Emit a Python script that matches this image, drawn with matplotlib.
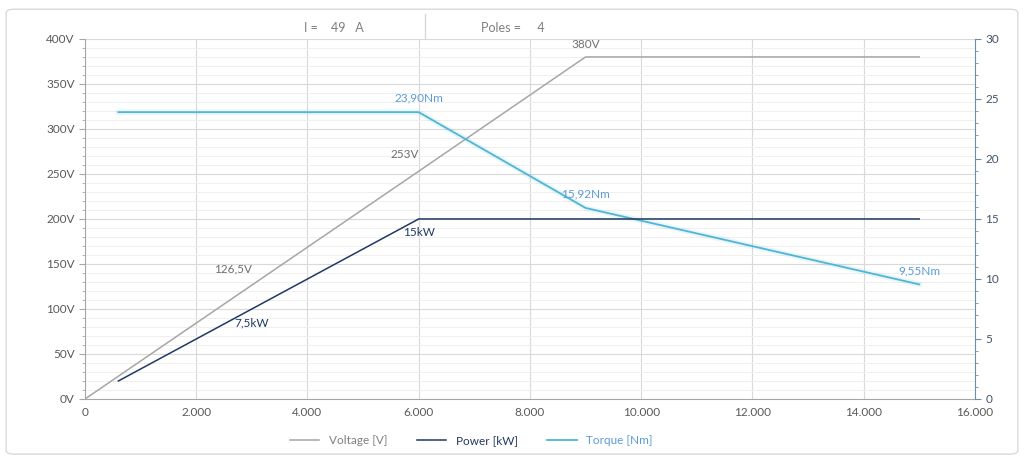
import matplotlib.pyplot as plt
from matplotlib.ticker import MultipleLocator, FuncFormatter
from matplotlib.patches import FancyBboxPatch

plt.rcParams['font.family'] = ['Lato', 'DejaVu Sans']

# Datos
rpm_v = [0, 3000, 6000, 9000, 15000]
voltage = [0, 126.5, 253, 380, 380]
v_labels = ["", "126,5V", "253V", "380V", ""]

rpm_p = [600, 3000, 6000, 15000]
power = [1.5, 7.5, 15, 15]
p_labels = ["", "7,5kW", "15kW", ""]

rpm_t = [600, 6000, 9000, 15000]
torque = [23.9, 23.9, 15.92, 9.55]
t_labels = ["", "23,90Nm", "15,92Nm", "9,55Nm"]

corriente = 49
polos = 4

c_volt = "#a6a6a6"
c_pow = "#203864"
c_torq = "#4fb6d6"
c_tlab = "#5b9bd5"
c_txt = "#7f7f7f"

fig = plt.figure(figsize=(10.24, 4.61), dpi=100)
fig.patches.append(FancyBboxPatch((0.006, 0.015), 0.988, 0.965, boxstyle="round,pad=0,rounding_size=0.008",
                                  transform=fig.transFigure, fc="none", ec="#d9d9d9", lw=1, zorder=-5))

ax = fig.add_axes([0.083, 0.1345, 0.869, 0.781])
ax2 = ax.twinx()

# Grid
ax.set_xlim(0, 16000)
ax.set_ylim(0, 400)
ax2.set_ylim(0, 30)
ax.xaxis.set_major_locator(MultipleLocator(2000))
ax.yaxis.set_major_locator(MultipleLocator(50))
ax.yaxis.set_minor_locator(MultipleLocator(10))
ax2.yaxis.set_major_locator(MultipleLocator(5))
ax2.yaxis.set_minor_locator(MultipleLocator(1))
ax.grid(which="major", color="#d9d9d9", lw=0.8)
ax.grid(which="minor", axis="y", color="#efefef", lw=0.7)
ax.set_axisbelow(True)

ax.xaxis.set_major_formatter(FuncFormatter(lambda v, p: f"{int(v):,}".replace(",", ".")))
ax.yaxis.set_major_formatter(FuncFormatter(lambda v, p: f"{int(v)}V"))

ax.spines["top"].set_visible(False)
ax.spines["right"].set_visible(False)
ax2.spines["left"].set_visible(False)
ax2.spines["bottom"].set_visible(False)
ax2.spines["top"].set_visible(False)
ax.spines["left"].set_color("#a6a6a6")
ax.spines["bottom"].set_color("#a6a6a6")
ax2.spines["right"].set_color("#6d8fa6")

ax.tick_params(axis="both", which="both", colors="#a6a6a6", labelcolor="#595959", labelsize=8.5)
ax.tick_params(axis="y", which="major", length=4)
ax.tick_params(axis="y", which="minor", length=2)
ax.tick_params(axis="x", length=0, pad=6)
ax2.tick_params(axis="y", which="both", colors="#6d8fa6", labelcolor="#44546a", labelsize=8.5)
ax2.tick_params(axis="y", which="major", length=4)
ax2.tick_params(axis="y", which="minor", length=2)

# Series
lv, = ax.plot(rpm_v, voltage, color=c_volt, lw=1.1, label="Voltage [V]")
lt, = ax2.plot(rpm_t, torque, color=c_torq, lw=1.3, label="Torque [Nm]")
ax2.plot(rpm_t, torque, color=c_torq, lw=4, alpha=0.12)
lp, = ax2.plot(rpm_p, power, color=c_pow, lw=1.1, label="Power [kW]")

# Etiquetas de datos
for x, y, t in zip(rpm_v, voltage, v_labels):
    if t == "380V":
        ax.annotate(t, (x, y), xytext=(0, 5), textcoords="offset points", ha="center", va="bottom", color="#6f6f6f", fontsize=8.5)
    elif t:
        ax.annotate(t, (x, y), xytext=(0, 8), textcoords="offset points", ha="right", va="bottom", color="#6f6f6f", fontsize=8.5)
for x, y, t in zip(rpm_p, power, p_labels):
    if t:
        ax2.annotate(t, (x, y), xytext=(0, -6), textcoords="offset points", ha="center", va="top", color=c_pow, fontsize=8.5)
for x, y, t in zip(rpm_t, torque, t_labels):
    if t:
        ax2.annotate(t, (x, y), xytext=(0, 6), textcoords="offset points", ha="center", va="bottom", color=c_tlab, fontsize=8.5)

# Cabecera
fig.text(0.297, 0.94, f"I =    {corriente}   A", color=c_txt, fontsize=9, va="center")
fig.text(0.47, 0.94, f"Poles =     {polos}", color=c_txt, fontsize=9, va="center")
fig.add_artist(plt.Line2D([0.415, 0.415], [0.915, 0.97], color="#d9d9d9", lw=1))

fig.legend(handles=[lv, lp, lt], loc="center", bbox_to_anchor=(0.46, 0.045), ncol=3, frameon=False,
           fontsize=8.5, handlelength=2.5, columnspacing=2.5, labelcolor=["#7f7f7f", c_pow, c_tlab])

fig.savefig("out.png", dpi=100)
